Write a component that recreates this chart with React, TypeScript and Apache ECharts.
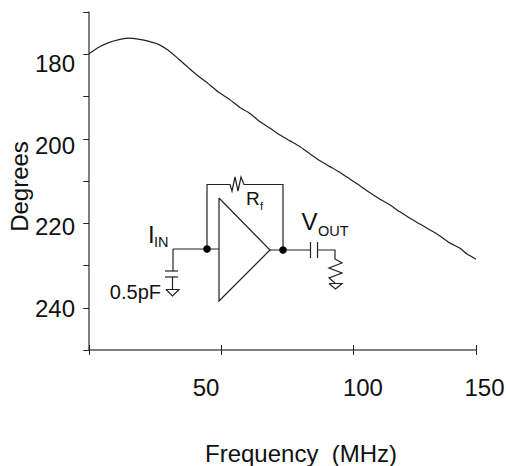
import React, { useEffect, useRef } from "react";
import * as echarts from "echarts";

const FONT = "Liberation Sans";
const INK = "#111111";
const AXIS = "#555555";

const frequency = [0, 3.6, 7.4, 11.2, 15.1, 19, 22.9, 26.7, 30.6, 34.5, 38.4, 42.2, 46.1, 50, 54.7, 58.5, 62.4, 66.3, 70.2, 74, 77.9, 81.8, 85.7, 89.5, 93.4, 97.3, 101.2, 105, 108.9, 112.8, 116.7, 120.5, 124.4, 128.3, 132.2, 136, 139.9, 143.8, 146.5, 150];
const degrees = [179.9, 178.4, 177.3, 176.6, 176.2, 176.4, 176.9, 177.6, 179, 181, 183.1, 185.1, 186.9, 188.9, 190.8, 192.6, 194, 196, 197.5, 199.1, 200.5, 201.9, 203.6, 205.2, 206.6, 208, 209.6, 211.1, 212.8, 214.3, 215.7, 217.3, 218.8, 220.2, 221.6, 223, 224.7, 225.9, 227.3, 228.5];

// The scanned axis is not evenly ruled: its ticks sit at these axis values.
const xTickValues = [0, 51.2, 102.3, 150];
const xTickLabels = ["", "50", "100", "150"];
const yTickLabels = ["180", "200", "220", "240"];

const wire = (points: number[][], lineWidth = 1.2) => ({
  type: "polyline",
  silent: true,
  shape: { points },
  style: { stroke: "#222222", lineWidth, fill: "none" },
});
const dot = (cx: number, cy: number) => ({
  type: "circle",
  silent: true,
  shape: { cx, cy, r: 3.8 },
  style: { fill: "#000000" },
});
const txt = (text: string, x: number, y: number, fontSize: number, align = "left") => ({
  type: "text",
  silent: true,
  x,
  y,
  style: { text, x: 0, y: 0, fontFamily: FONT, fontSize, fill: INK, textAlign: align, textVerticalAlign: "bottom" },
});

const circuit = [
  wire([[173, 249], [219, 249]]),
  wire([[207, 249], [207, 184.5], [230, 184.5], [232, 191], [235, 177], [238, 191], [241, 177], [244, 184.5], [283, 184.5], [283, 250]]),
  wire([[219, 198], [270, 250], [219, 301], [219, 198]]),
  wire([[270, 250], [311, 250]]),
  wire([[310.5, 242], [310.5, 258]]),
  wire([[317.5, 242], [317.5, 258]]),
  wire([[318, 250], [335, 250], [335, 259], [342, 263], [329, 268], [342, 273], [329, 278], [335, 283]]),
  wire([[329, 283.5], [342, 283.5], [335.5, 289], [329, 283.5]]),
  wire([[173, 249], [173, 271]]),
  wire([[165, 271], [178, 271]]),
  wire([[165, 277], [178, 277]]),
  wire([[172.5, 277], [172.5, 289.5]]),
  wire([[166, 289.5], [179, 289.5], [172.5, 296], [166, 289.5]]),
  dot(207, 249),
  dot(283, 250),
  txt("R", 246, 207.5, 19),
  txt("f", 260, 211.5, 11),
  txt("V", 301.5, 233.5, 24),
  txt("OUT", 318, 238, 14.5),
  txt("I", 148, 246.7, 24),
  txt("IN", 154, 249, 14.5),
  txt("0.5pF", 161, 302, 20, "right"),
];

const yShift: Record<string, number> = { "180": 18, "200": 14, "220": 6, "240": 2 };
const xShift: Record<string, number[]> = { "50": [0, 30, 0, 0], "100": [0, 0, 0, 20], "150": [0, 0, 0, 17] };

const axisBase = {
  splitLine: { show: false },
  axisLine: { show: false },
};

const option = {
  animation: false,
  backgroundColor: "#ffffff",
  grid: { left: 89, top: 12, width: 387, height: 338, containLabel: false, outerBoundsMode: "none" },
  xAxis: [
    {
      ...axisBase,
      type: "value",
      position: "bottom",
      min: 0,
      max: 150,
      axisLine: { show: true, onZero: false, lineStyle: { color: AXIS, width: 1.5 } },
      axisTick: { show: true, customValues: xTickValues, length: 5, lineStyle: { color: "#222222", width: 1 } },
      axisLabel: {
        show: true,
        customValues: xTickValues,
        margin: 25,
        hideOverlap: false,
        showMinLabel: true,
        showMaxLabel: true,
        formatter: (v: number) => {
          const t = xTickLabels[xTickValues.indexOf(v)];
          return t ? `{${"l" + t}|${t}}` : "";
        },
        rich: {
          l50: { fontFamily: FONT, fontSize: 24, color: INK, padding: xShift["50"] },
          l100: { fontFamily: FONT, fontSize: 24, color: INK, padding: xShift["100"] },
          l150: { fontFamily: FONT, fontSize: 24, color: INK, padding: xShift["150"] },
        },
      },
      name: "Frequency  (MHz)",
      nameLocation: "middle",
      nameGap: 91,
      nameTextStyle: { fontFamily: FONT, fontSize: 24, color: INK, padding: [0, 0, 0, 37] },
    },
    {
      ...axisBase,
      type: "value",
      position: "bottom",
      min: 0,
      max: 150,
      axisTick: { show: true, inside: true, customValues: xTickValues, length: 5, lineStyle: { color: "#222222", width: 1 } },
      axisLabel: { show: false },
    },
  ],
  yAxis: [
    {
      ...axisBase,
      type: "value",
      inverse: true,
      min: 170,
      max: 250,
      interval: 10,
      axisLine: { show: true, onZero: false, lineStyle: { color: AXIS, width: 1.5 } },
      axisTick: { show: true, length: 5.5, lineStyle: { color: "#222222", width: 1 } },
      axisLabel: {
        show: true,
        margin: 14,
        showMinLabel: true,
        showMaxLabel: true,
        formatter: (v: number) => {
          const t = String(v);
          return yTickLabels.includes(t) ? `{${"l" + t}|${t}}` : "";
        },
        rich: Object.fromEntries(
          yTickLabels.map((t) => [
            "l" + t,
            { fontFamily: FONT, fontSize: 24, color: INK, padding: [yShift[t], 0, 0, 0] },
          ])
        ),
      },
      name: "Degrees",
      nameLocation: "middle",
      nameMoveOverlap: false,
      nameGap: 58,
      nameRotate: 90,
      nameTextStyle: { fontFamily: FONT, fontSize: 24, color: INK, padding: [0, 11, 0, 0] },
    },
    {
      ...axisBase,
      type: "value",
      inverse: true,
      min: 170,
      max: 250,
      interval: 10,
      axisTick: { show: true, inside: true, length: 5.5, lineStyle: { color: "#222222", width: 1 } },
      axisLabel: { show: false },
    },
  ],
  series: [
    {
      type: "line",
      xAxisIndex: 0,
      yAxisIndex: 0,
      data: frequency.map((f, i) => [f, degrees[i]]),
      showSymbol: false,
      smooth: 0.2,
      lineStyle: { color: "#222222", width: 1.2 },
    },
  ],
  graphic: { elements: circuit },
};

export default function App() {
  const ref = useRef<HTMLDivElement>(null);
  useEffect(() => {
    const chart = echarts.init(ref.current!, undefined, { renderer: "svg" });
    chart.setOption(option as any);
    return () => chart.dispose();
  }, []);
  return <div ref={ref} style={{ position: "absolute", left: 0, top: 0, width: 506, height: 466 }} />;
}
